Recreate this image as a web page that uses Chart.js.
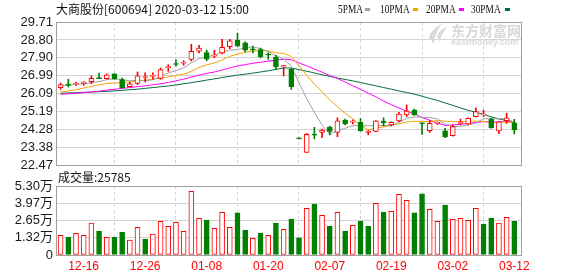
<!DOCTYPE html>
<html>
<head>
<meta charset="utf-8">
<script src="https://cdn.jsdelivr.net/npm/chart.js@4.4.1/dist/chart.umd.min.js"></script>
<style>
    body {
        margin: 0;
        background: #fff;
    }

    #wrap {
        position: relative;
        width: 578px;
        height: 276px;
        overflow: hidden;
        font-family: "Noto Sans CJK SC", sans-serif;
    }

    #wrap canvas {
        position: absolute;
        left: 0;
        top: 0;
    }

    .txt {
        position: absolute;
        white-space: nowrap;
        line-height: 14px;
    }

    .title {
        left: 56px;
        top: 2px;
        font-size: 12px;
        color: #111;
    }

    .lg {
        top: 2px;
        font: 12px "Liberation Serif", serif;
        color: #111;
        transform: scaleX(0.78);
        transform-origin: left center;
    }

    .sq {
        position: absolute;
        top: 8px;
        width: 5px;
        height: 3px;
    }

    .logo {
        position: absolute;
        left: 426px;
        top: 23px;
    }

    .mark1 {
        left: 451px;
        top: 23px;
        font-size: 14px;
        font-weight: bold;
        color: #d8d8d8;
    }

    .mark2 {
        left: 451px;
        top: 37px;
        font: bold 9px "Liberation Sans", sans-serif;
        color: #d8d8d8;
    }

    .vol {
        left: 58px;
        top: 170px;
        font-size: 12px;
        color: #111;
    }
</style>
</head>
<body>
<div id="wrap">
    <canvas id="priceChart" width="578" height="276"></canvas>
    <canvas id="volumeChart" width="578" height="276"></canvas>

    <div class="txt title">大商股份[600694] 2020-03-12 15:00</div>

    <div class="txt lg" style="left:338px">5PMA</div>
    <div class="sq" style="left:365px;background:#a0a0a0"></div>
    <div class="txt lg" style="left:380px">10PMA</div>
    <div class="sq" style="left:413px;background:#f5a300"></div>
    <div class="txt lg" style="left:426px">20PMA</div>
    <div class="sq" style="left:459px;background:#ff00ff"></div>
    <div class="txt lg" style="left:471px">30PMA</div>
    <div class="sq" style="left:505px;background:#006f3c"></div>

    <svg class="logo" width="22" height="22" viewBox="0 0 22 22">
        <path d="M3 14 C5 8 10 4 16 1 C12 6 9 11 8 21 C6 18 4 16 3 14 Z" fill="#dadada"/>
        <path d="M11 13 C13 8 17 5 21 4 C18 8 15 12 14 20 C13 17 12 15 11 13 Z" fill="#dadada"/>
    </svg>
    <div class="txt mark1">东方财富网</div>
    <div class="txt mark2">eastmoney.com</div>

    <div class="txt vol">成交量:25785</div>
</div>

<script>
const dates = [
    "12-11", "12-12", "12-13", "12-16", "12-17", "12-18", "12-19", "12-20", "12-23", "12-24",
    "12-25", "12-26", "12-27", "12-30", "12-31", "01-02", "01-03", "01-06", "01-07", "01-08",
    "01-09", "01-10", "01-13", "01-14", "01-15", "01-16", "01-17", "01-20", "01-21", "01-22",
    "01-23", "02-03", "02-04", "02-05", "02-06", "02-07", "02-10", "02-11", "02-12", "02-13",
    "02-14", "02-17", "02-18", "02-19", "02-20", "02-21", "02-24", "02-25", "02-26", "02-27",
    "02-28", "03-02", "03-03", "03-04", "03-05", "03-06", "03-09", "03-10", "03-11", "03-12"
];

const openPrices = [
    26.38, 26.57, 26.57, 26.60, 26.69, 26.88, 26.84, 27.08, 26.80, 26.44,
    26.60, 26.90, 26.96, 26.85, 27.40, 27.60, 27.62, 27.82, 28.23, 28.16,
    27.98, 28.14, 28.46, 28.78, 28.65, 28.32, 28.31, 28.07, 27.94, 27.43,
    27.33, 23.79, 23.11, 24.00, 24.12, 24.39, 24.12, 24.75, 24.64, 24.63,
    24.12, 24.17, 24.68, 24.50, 24.70, 25.00, 25.25, 24.60, 24.21, 24.58,
    24.20, 23.95, 24.58, 24.55, 24.92, 25.01, 24.80, 24.20, 24.71, 24.61
];

const highPrices = [
    26.62, 26.81, 26.67, 26.70, 26.98, 27.13, 27.08, 27.09, 26.87, 26.66,
    27.18, 27.14, 27.14, 27.38, 27.55, 27.80, 27.75, 28.58, 28.53, 28.28,
    28.28, 28.83, 28.83, 29.15, 28.70, 28.49, 28.39, 28.15, 28.02, 27.52,
    27.35, 23.79, 24.07, 24.38, 24.29, 24.44, 24.86, 24.80, 24.75, 24.83,
    24.22, 24.72, 24.86, 24.66, 25.14, 25.51, 25.30, 24.62, 24.72, 24.66,
    24.33, 24.50, 24.80, 24.86, 25.37, 25.25, 24.85, 24.68, 25.09, 24.78
];

const lowPrices = [
    26.30, 26.42, 26.50, 26.50, 26.59, 26.84, 26.82, 26.81, 26.36, 26.42,
    26.54, 26.67, 26.81, 26.81, 27.21, 27.48, 27.52, 27.74, 28.14, 27.75,
    27.90, 28.09, 28.36, 28.48, 28.19, 28.14, 27.89, 27.82, 27.30, 26.98,
    26.30, 23.79, 23.11, 23.79, 23.85, 23.99, 23.90, 24.50, 24.55, 24.18,
    24.00, 24.15, 24.44, 24.45, 24.66, 24.92, 24.98, 24.02, 24.12, 24.52,
    23.85, 23.93, 24.50, 24.52, 24.90, 24.92, 24.33, 24.05, 24.58, 24.04
];

const closePrices = [
    26.54, 26.50, 26.60, 26.63, 26.86, 26.84, 27.04, 26.82, 26.38, 26.58,
    26.99, 26.94, 26.99, 27.30, 27.45, 27.56, 27.67, 28.23, 28.39, 27.83,
    28.03, 28.43, 28.76, 28.49, 28.28, 28.30, 27.95, 28.04, 27.43, 27.50,
    26.43, 23.79, 24.02, 23.98, 24.24, 24.17, 24.70, 24.55, 24.67, 24.20,
    24.19, 24.70, 24.60, 24.63, 25.05, 25.20, 25.02, 24.56, 24.58, 24.62,
    23.90, 24.41, 24.62, 24.83, 25.17, 25.05, 24.36, 24.66, 24.86, 24.24
];

// 成交量, 单位: 万
const volumes = [
    1.51, 1.38, 1.67, 1.51, 2.46, 1.84, 1.36, 1.38, 1.77, 1.15,
    2.12, 1.23, 1.61, 2.59, 2.20, 2.51, 1.82, 4.89, 2.82, 2.69,
    2.05, 3.28, 2.12, 3.23, 1.92, 1.28, 1.69, 1.51, 2.46, 1.97,
    2.76, 1.31, 3.59, 3.92, 3.05, 2.23, 3.28, 1.84, 2.28, 2.61,
    2.23, 3.97, 3.30, 3.36, 4.66, 4.20, 3.23, 4.69, 3.51, 2.59,
    3.84, 2.74, 2.82, 2.66, 3.59, 2.38, 2.84, 2.46, 2.90, 2.58
];

const ma5 = [
    26.47, 26.52, 26.55, 26.58, 26.63, 26.69, 26.79, 26.84, 26.79, 26.73,
    26.76, 26.74, 26.78, 26.96, 27.13, 27.25, 27.39, 27.64, 27.86, 27.94,
    28.03, 28.18, 28.29, 28.31, 28.40, 28.45, 28.36, 28.21, 28.00, 27.84,
    27.47, 26.64, 25.83, 25.14, 24.49, 24.04, 24.22, 24.33, 24.47, 24.46,
    24.46, 24.46, 24.47, 24.46, 24.63, 24.84, 24.90, 24.89, 24.88, 24.80,
    24.54, 24.41, 24.43, 24.48, 24.59, 24.82, 24.81, 24.81, 24.82, 24.63
];

const ma10 = [
    26.17, 26.22, 26.28, 26.37, 26.45, 26.53, 26.59, 26.62, 26.64, 26.68,
    26.72, 26.77, 26.81, 26.87, 26.93, 27.01, 27.07, 27.21, 27.41, 27.54,
    27.64, 27.79, 27.97, 28.08, 28.17, 28.24, 28.27, 28.25, 28.15, 28.12,
    27.96, 27.50, 27.02, 26.57, 26.17, 25.76, 25.43, 25.08, 24.81, 24.48,
    24.25, 24.34, 24.40, 24.47, 24.55, 24.65, 24.68, 24.68, 24.67, 24.72,
    24.69, 24.66, 24.66, 24.68, 24.69, 24.68, 24.61, 24.62, 24.65, 24.61
];

const ma20 = [
    26.05, 26.07, 26.10, 26.13, 26.17, 26.21, 26.26, 26.30, 26.35, 26.39,
    26.44, 26.48, 26.53, 26.58, 26.65, 26.73, 26.82, 26.92, 27.02, 27.11,
    27.18, 27.28, 27.39, 27.48, 27.55, 27.62, 27.67, 27.73, 27.78, 27.83,
    27.80, 27.64, 27.49, 27.33, 27.17, 27.00, 26.85, 26.67, 26.48, 26.30,
    26.11, 25.92, 25.71, 25.52, 25.36, 25.20, 25.06, 24.88, 24.74, 24.60,
    24.47, 24.50, 24.53, 24.57, 24.62, 24.66, 24.65, 24.65, 24.66, 24.66
];

const ma30 = [
    26.10, 26.12, 26.13, 26.15, 26.16, 26.18, 26.20, 26.22, 26.25, 26.28,
    26.31, 26.35, 26.39, 26.43, 26.47, 26.52, 26.58, 26.64, 26.70, 26.77,
    26.83, 26.90, 26.96, 27.02, 27.07, 27.12, 27.18, 27.24, 27.31, 27.38,
    27.38, 27.30, 27.22, 27.13, 27.04, 26.96, 26.88, 26.80, 26.73, 26.65,
    26.56, 26.48, 26.39, 26.31, 26.22, 26.14, 26.06, 25.95, 25.84, 25.74,
    25.61, 25.49, 25.36, 25.24, 25.14, 25.03, 24.91, 24.80, 24.72, 24.62
];

const priceTicks = [22.47, 23.38, 24.28, 25.19, 26.09, 26.99, 27.90, 28.80, 29.71];

const volumeTicks = [0, 1.32, 2.65, 3.97, 5.30];

const tickDates = ["12-16", "12-26", "01-08", "01-20", "02-07", "02-19", "03-02", "03-12"];

const RED = "#ff0000";
const GREEN = "#008000";
const GRID = "#d4d4d4";
const FRAME = "#a0a0a0";

// 价格图和成交量图共用同一条 x 轴范围
const X_MIN = -0.6;
const X_MAX = 60;

function isUp(i) {

    if (closePrices[i] !== openPrices[i]) {
        return closePrices[i] > openPrices[i];
    }

    const prev = i > 0 ? closePrices[i - 1] : openPrices[i];

    return closePrices[i] >= prev;
}

function volumeUp(i) {

    const prev = i > 0 ? closePrices[i - 1] : openPrices[i];

    return closePrices[i] >= prev;
}

const framePlugin = {

    id: "frame",

    afterDraw(chart) {

        const ctx = chart.ctx;
        const a = chart.chartArea;

        ctx.save();
        ctx.strokeStyle = FRAME;
        ctx.lineWidth = 1;
        ctx.strokeRect(
            Math.round(a.left) + 0.5,
            Math.round(a.top) + 0.5,
            Math.round(a.right - a.left) - 1,
            Math.round(a.bottom - a.top)
        );
        ctx.restore();
    }

};

function dateTicks(scale) {

    scale.ticks = tickDates.map(
        d => ({ value: dates.indexOf(d) })
    );

}

function maLine(label, values, color, order) {

    return {
        type: "line",
        label: label,
        data: values.map((v, i) => ({ x: i, y: v })),
        borderColor: color,
        borderWidth: 1,
        pointRadius: 0,
        tension: 0,
        order: order
    };

}

function renderPriceChart() {

    const wicks = dates.map((d, i) => ({
        x: i,
        y: [lowPrices[i], highPrices[i]]
    }));

    const bodies = dates.map((d, i) => ({
        x: i,
        y: [openPrices[i], closePrices[i]]
    }));

    const candleColors = dates.map(
        (d, i) => isUp(i) ? RED : GREEN
    );

    const bodyFills = dates.map(
        (d, i) => isUp(i) ? "#ffffff" : GREEN
    );

    new Chart(document.getElementById("priceChart"), {

        type: "bar",

        data: {
            datasets: [
                {
                    label: "body",
                    data: bodies,
                    backgroundColor: bodyFills,
                    borderColor: candleColors,
                    borderWidth: 1,
                    borderSkipped: false,
                    barThickness: 5,
                    minBarLength: 1,
                    grouped: false,
                    order: 1
                },
                {
                    label: "wick",
                    data: wicks,
                    backgroundColor: candleColors,
                    borderWidth: 0,
                    barThickness: 1,
                    minBarLength: 1,
                    grouped: false,
                    order: 2
                },
                maLine("5PMA", ma5, "#a0a0a0", 3),
                maLine("10PMA", ma10, "#f5a300", 4),
                maLine("20PMA", ma20, "#ff00ff", 5),
                maLine("30PMA", ma30, "#006f3c", 6)
            ]
        },

        options: {
            responsive: false,
            animation: false,
            layout: {
                padding: { left: 0, right: 56, top: 22, bottom: 111 }
            },
            plugins: {
                legend: { display: false },
                tooltip: { enabled: false }
            },
            scales: {
                x: {
                    type: "linear",
                    min: X_MIN,
                    max: X_MAX,
                    offset: false,
                    afterBuildTicks: dateTicks,
                    afterFit: s => { s.height = 0; },
                    ticks: { display: false },
                    grid: {
                        color: GRID,
                        drawTicks: false
                    },
                    border: { display: false, dash: [3, 3] }
                },
                y: {
                    min: priceTicks[0],
                    max: priceTicks[priceTicks.length - 1],
                    afterBuildTicks: s => {
                        s.ticks = priceTicks.map(v => ({ value: v }));
                    },
                    afterFit: s => { s.width = 56; },
                    ticks: {
                        autoSkip: false,
                        padding: 3,
                        color: "#1a1a1a",
                        font: { family: "Liberation Sans", size: 13 },
                        callback: v => v.toFixed(2)
                    },
                    grid: {
                        color: GRID,
                        drawTicks: false
                    },
                    border: { display: false }
                }
            }
        },

        plugins: [framePlugin]

    });

}

function renderVolumeChart() {

    const bars = dates.map((d, i) => ({ x: i, y: volumes[i] }));

    const barColors = dates.map(
        (d, i) => volumeUp(i) ? RED : GREEN
    );

    const barFills = dates.map(
        (d, i) => volumeUp(i) ? "#ffffff" : GREEN
    );

    new Chart(document.getElementById("volumeChart"), {

        type: "bar",

        data: {
            datasets: [
                {
                    label: "成交量",
                    data: bars,
                    backgroundColor: barFills,
                    borderColor: barColors,
                    borderWidth: 1,
                    borderSkipped: false,
                    barThickness: 5,
                    grouped: false
                }
            ]
        },

        options: {
            responsive: false,
            animation: false,
            layout: {
                padding: { left: 0, right: 56, top: 186, bottom: 0 }
            },
            plugins: {
                legend: { display: false },
                tooltip: { enabled: false }
            },
            scales: {
                x: {
                    type: "linear",
                    min: X_MIN,
                    max: X_MAX,
                    offset: false,
                    afterBuildTicks: dateTicks,
                    afterFit: s => { s.height = 21; },
                    ticks: {
                        autoSkip: false,
                        maxRotation: 0,
                        padding: 4,
                        color: RED,
                        font: { family: "Liberation Sans", size: 12 },
                        callback: v => dates[v]
                    },
                    grid: {
                        color: GRID,
                        drawTicks: false
                    },
                    border: { display: false, dash: [3, 3] }
                },
                y: {
                    min: volumeTicks[0],
                    max: volumeTicks[volumeTicks.length - 1],
                    afterBuildTicks: s => {
                        s.ticks = volumeTicks.map(v => ({ value: v }));
                    },
                    afterFit: s => { s.width = 56; },
                    ticks: {
                        autoSkip: false,
                        padding: 3,
                        color: "#1a1a1a",
                        font: { family: "'Liberation Sans', 'Noto Sans CJK SC'", size: 13 },
                        callback: v => v === 0 ? "0" : v.toFixed(2) + "万"
                    },
                    grid: {
                        color: GRID,
                        drawTicks: false
                    },
                    border: { display: false }
                }
            }
        },

        plugins: [framePlugin]

    });

}

renderPriceChart();
renderVolumeChart();
</script>
</body>
</html>
